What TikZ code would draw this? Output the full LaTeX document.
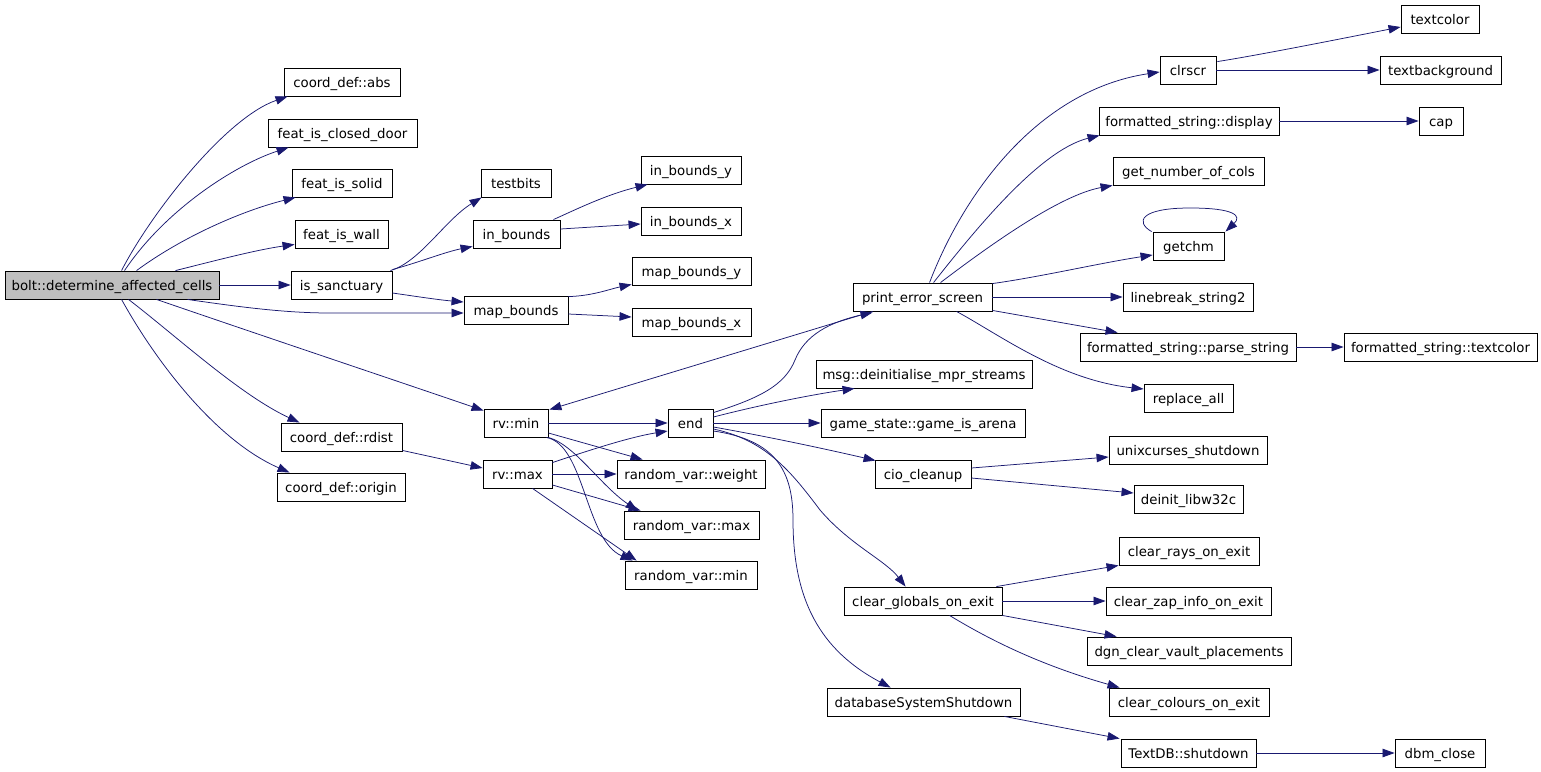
\documentclass[tikz,border=0pt]{standalone}
\usepackage{fontspec}
\setmainfont{DejaVu Sans}
\usetikzlibrary{arrows.meta,calc}
\definecolor{edgeblue}{HTML}{191970}
\definecolor{rootgray}{HTML}{BFBFBF}
\begin{document}
\begin{tikzpicture}[x=1pt,y=-1pt,
  fn/.style={draw=black,line width=0.9pt,fill=white,inner sep=0pt,minimum height=28pt,
     text height=10pt,text depth=0pt,font=\fontsize{13.3}{15}\selectfont},
  rootfn/.style={fn,fill=rootgray},
  edge/.style={draw=edgeblue,line width=0.75pt,-{Triangle[length=12pt,width=8.5pt]}}]
\useasboundingbox (0,0) rectangle (1541,771);
\fill[white] (0,0) rectangle (1541,771);
% nodes
\node[rootfn,minimum width=214pt] (bolt) at (112,285) {bolt::determine\_affected\_cells};
\node[fn,minimum width=116pt] (abs) at (342,82) {coord\_def::abs};
\node[fn,minimum width=149pt] (door) at (342.5,133) {feat\_is\_closed\_door};
\node[fn,minimum width=100pt] (solid) at (342,183) {feat\_is\_solid};
\node[fn,minimum width=93pt] (wall) at (341.5,234) {feat\_is\_wall};
\node[fn,minimum width=101pt] (sanct) at (341.5,285) {is\_sanctuary};
\node[fn,minimum width=70pt] (testbits) at (516,183) {testbits};
\node[fn,minimum width=87pt] (inb) at (516.5,234) {in\_bounds};
\node[fn,minimum width=100pt] (inby) at (691,170) {in\_bounds\_y};
\node[fn,minimum width=100pt] (inbx) at (691,221) {in\_bounds\_x};
\node[fn,minimum width=119pt] (mapby) at (691.5,271) {map\_bounds\_y};
\node[fn,minimum width=119pt] (mapbx) at (691.5,322) {map\_bounds\_x};
\node[fn,minimum width=104pt] (mapb) at (516,310) {map\_bounds};
\node[fn,minimum width=121pt] (rdist) at (341.5,437) {coord\_def::rdist};
\node[fn,minimum width=128pt] (origin) at (341,487) {coord\_def::origin};
\node[fn,minimum width=64pt] (rvmin) at (516,423) {rv::min};
\node[fn,minimum width=69pt] (rvmax) at (517.5,474) {rv::max};
\node[fn,minimum width=45pt] (end) at (690.5,423) {end};
\node[fn,minimum width=148pt] (rweight) at (691,474) {random\_var::weight};
\node[fn,minimum width=135pt] (rmax) at (691.5,525) {random\_var::max};
\node[fn,minimum width=132pt] (rmin) at (691,575) {random\_var::min};
\node[fn,minimum width=139pt] (pes) at (922.5,297) {print\_error\_screen};
\node[fn,minimum width=216pt] (msg) at (924,374) {msg::deinitialise\_mpr\_streams};
\node[fn,minimum width=204pt] (arena) at (923,423) {game\_state::game\_is\_arena};
\node[fn,minimum width=96pt] (cio) at (923,474) {cio\_cleanup};
\node[fn,minimum width=158pt] (cge) at (923,601) {clear\_globals\_on\_exit};
\node[fn,minimum width=193pt] (dbss) at (923.5,702) {databaseSystemShutdown};
\node[fn,minimum width=56pt] (clrscr) at (1188,70) {clrscr};
\node[fn,minimum width=180pt] (display) at (1189,121) {formatted\_string::display};
\node[fn,minimum width=151pt] (gnoc) at (1188.5,171) {get\_number\_of\_cols};
\node[fn,minimum width=71pt] (getchm) at (1188.5,246) {getchm};
\node[fn,minimum width=130pt] (lb2) at (1188,297) {linebreak\_string2};
\node[fn,minimum width=216pt] (parse) at (1188,347) {formatted\_string::parse\_string};
\node[fn,minimum width=89pt] (replace) at (1188.5,398) {replace\_all};
\node[fn,minimum width=78pt] (textcolor) at (1440,19) {textcolor};
\node[fn,minimum width=121pt] (textbg) at (1440.5,70) {textbackground};
\node[fn,minimum width=44pt] (cap) at (1441,121) {cap};
\node[fn,minimum width=193pt] (fstc) at (1440.5,347) {formatted\_string::textcolor};
\node[fn,minimum width=158pt] (unix) at (1188,450) {unixcurses\_shutdown};
\node[fn,minimum width=109pt] (deinit) at (1188.5,499) {deinit\_libw32c};
\node[fn,minimum width=140pt] (rays) at (1189,551) {clear\_rays\_on\_exit};
\node[fn,minimum width=165pt] (zap) at (1188.5,601) {clear\_zap\_info\_on\_exit};
\node[fn,minimum width=204pt] (dgn) at (1189,651) {dgn\_clear\_vault\_placements};
\node[fn,minimum width=160pt] (colours) at (1189,702) {clear\_colours\_on\_exit};
\node[fn,minimum width=135pt] (textdb) at (1188.5,753) {TextDB::shutdown};
\node[fn,minimum width=90pt] (dbm) at (1440,753) {dbm\_close};
% edges from bolt
\draw[edge] ($(bolt.north west)+(117,0)$) .. controls (150,215) and (225,118) .. ($(abs.south west)+(4,0)$);
\draw[edge] ($(bolt.north west)+(120,0)$) .. controls (165,210) and (235,165) .. ($(door.south west)+(21,0)$);
\draw[edge] ($(bolt.north west)+(132,0)$) .. controls (185,235) and (245,210) .. ($(solid.south west)+(4,0)$);
\draw[edge] ($(bolt.north west)+(171,0)$) .. controls (210,262) and (255,250) .. ($(wall.south west)+(0,-4)$);
\draw[edge] (bolt.east) -- (sanct.west);
\draw[edge] ($(bolt.south west)+(183,0)$) .. controls (240,307) and (285,313) .. (330,313) -- ($(mapb.west)+(0,3)$);
\draw[edge] ($(bolt.south west)+(152,0)$) .. controls (260,335) and (400,382) .. ($(rvmin.north west)+(0,2)$);
\draw[edge] ($(bolt.south west)+(124,0)$) .. controls (175,335) and (240,395) .. ($(rdist.north west)+(19,0)$);
\draw[edge] ($(bolt.south west)+(117,0)$) .. controls (155,360) and (215,440) .. ($(origin.north west)+(13,0)$);
% is_sanctuary
\draw[edge] ($(sanct.north east)+(-2,0)$) .. controls (420,262) and (445,220) .. ($(testbits.south west)+(1,0)$);
\draw[edge] ($(sanct.north east)+(0,-1)$) .. controls (420,262) and (445,252) .. ($(inb.south west)+(0,-2)$);
\draw[edge] ($(sanct.east)+(0,8)$) .. controls (420,297) and (440,300) .. ($(mapb.west)+(0,-8)$);
% in_bounds, map_bounds
\draw[edge] ($(inb.north east)+(-7,0)$) .. controls (575,210) and (605,195) .. ($(inby.south west)+(7,0)$);
\draw[edge] ($(inb.east)+(0,-5)$) -- ($(inbx.west)+(0,3)$);
\draw[edge] ($(mapb.north east)+(0,1)$) .. controls (592,296) and (610,289) .. ($(mapby.south west)+(0,-1)$);
\draw[edge] ($(mapb.east)+(0,4)$) -- ($(mapbx.west)+(0,-5)$);
% rdist
\draw[edge] ($(rdist.south east)+(0,-1)$) -- ($(rvmax.west)+(0,-6)$);
% rv::min
\draw[edge] (rvmin.east) -- (end.west);
\draw[edge] ($(rvmin.east)+(0,10)$) -- ($(rweight.north west)+(26,0)$);
\draw[edge] (rvmin.south east) .. controls (575,445) and (600,485) .. ($(rmax.north west)+(14,0)$);
\draw[edge] ($(rvmin.south east)+(-2,0)$) .. controls (585,445) and (585,540) .. ($(rmin.north west)+(8,0)$);
% rv::max
\draw[edge] ($(rvmax.north east)+(0,3)$) .. controls (590,450) and (630,437) .. ($(end.west)+(0,8)$);
\draw[edge] (rvmax.east) -- (rweight.west);
\draw[edge] ($(rvmax.east)+(0,11)$) -- ($(rmax.north west)+(17,0)$);
\draw[edge] ($(rvmax.south west)+(50,0)$) -- ($(rmin.north west)+(12,0)$);
% print_error_screen -> rv::min
\draw[edge] ($(pes.south west)+(20,0)$) -- ($(rvmin.north east)+(1,1)$);
% end
\draw[edge] ($(end.north east)+(0,4)$) .. controls (760,398) and (785,385) .. (795,360) .. controls (805,335) and (830,322) .. ($(pes.south west)+(20,1)$);
\draw[edge] ($(end.east)+(0,-6)$) .. controls (760,405) and (810,395) .. ($(msg.south west)+(39,0)$);
\draw[edge] (end.east) -- (arena.west);
\draw[edge] ($(end.east)+(0,4)$) .. controls (770,437) and (830,450) .. ($(cio.north west)+(1,1)$);
\draw[edge] ($(end.east)+(0,6)$) .. controls (765,440) and (790,470) .. (820,510) .. controls (850,545) and (885,560) .. ($(cge.north west)+(62,0)$);
\draw[edge] ($(end.east)+(0,8)$) .. controls (775,440) and (793,470) .. (793,520) .. controls (793,600) and (820,650) .. ($(dbss.north west)+(64,0)$);
% print_error_screen
\draw[edge] ($(pes.north west)+(77,0)$) .. controls (965,190) and (1040,90) .. ($(clrscr.west)+(0,2)$);
\draw[edge] ($(pes.north west)+(81,0)$) .. controls (975,230) and (1040,150) .. ($(display.south west)+(1,0)$);
\draw[edge] ($(pes.north west)+(88,0)$) .. controls (990,245) and (1060,195) .. (gnoc.south west);
\draw[edge] ($(pes.north east)+(0,1)$) .. controls (1040,277) and (1100,263) .. ($(getchm.west)+(0,9)$);
\draw[edge] (pes.east) -- (lb2.west);
\draw[edge] ($(pes.south east)+(0,-1)$) -- ($(parse.north west)+(38,0)$);
\draw[edge] ($(pes.south west)+(104,0)$) .. controls (1000,335) and (1060,380) .. ($(replace.west)+(0,-9)$);
% clrscr, display, getchm, parse
\draw[edge] ($(clrscr.north east)+(1,6)$) .. controls (1260,55) and (1360,35) .. ($(textcolor.west)+(0,8)$);
\draw[edge] (clrscr.east) -- (textbg.west);
\draw[edge] (display.east) -- (cap.west);
\draw[edge] ($(getchm.north west)+(-1,0)$) .. controls (1135,222) and (1140,208) .. (1190,208) .. controls (1235,208) and (1242,216) .. ($(getchm.north east)+(1,0)$);
\draw[edge] (parse.east) -- (fstc.west);
% cio_cleanup
\draw[edge] ($(cio.east)+(0,-6)$) -- ($(unix.west)+(0,7)$);
\draw[edge] ($(cio.east)+(0,4)$) -- ($(deinit.west)+(0,-6)$);
% clear_globals_on_exit
\draw[edge] ($(cge.north east)+(-6,0)$) -- (rays.south west);
\draw[edge] (cge.east) -- (zap.west);
\draw[edge] (cge.south east) -- ($(dgn.north west)+(30,0)$);
\draw[edge] ($(cge.south west)+(106,0)$) .. controls (990,640) and (1040,665) .. ($(colours.north west)+(11,0)$);
% databaseSystemShutdown
\draw[edge] ($(dbss.south east)+(-16,0)$) -- ($(textdb.north west)+(-1,0)$);
\draw[edge] (textdb.east) -- (dbm.west);
\end{tikzpicture}
\end{document}
